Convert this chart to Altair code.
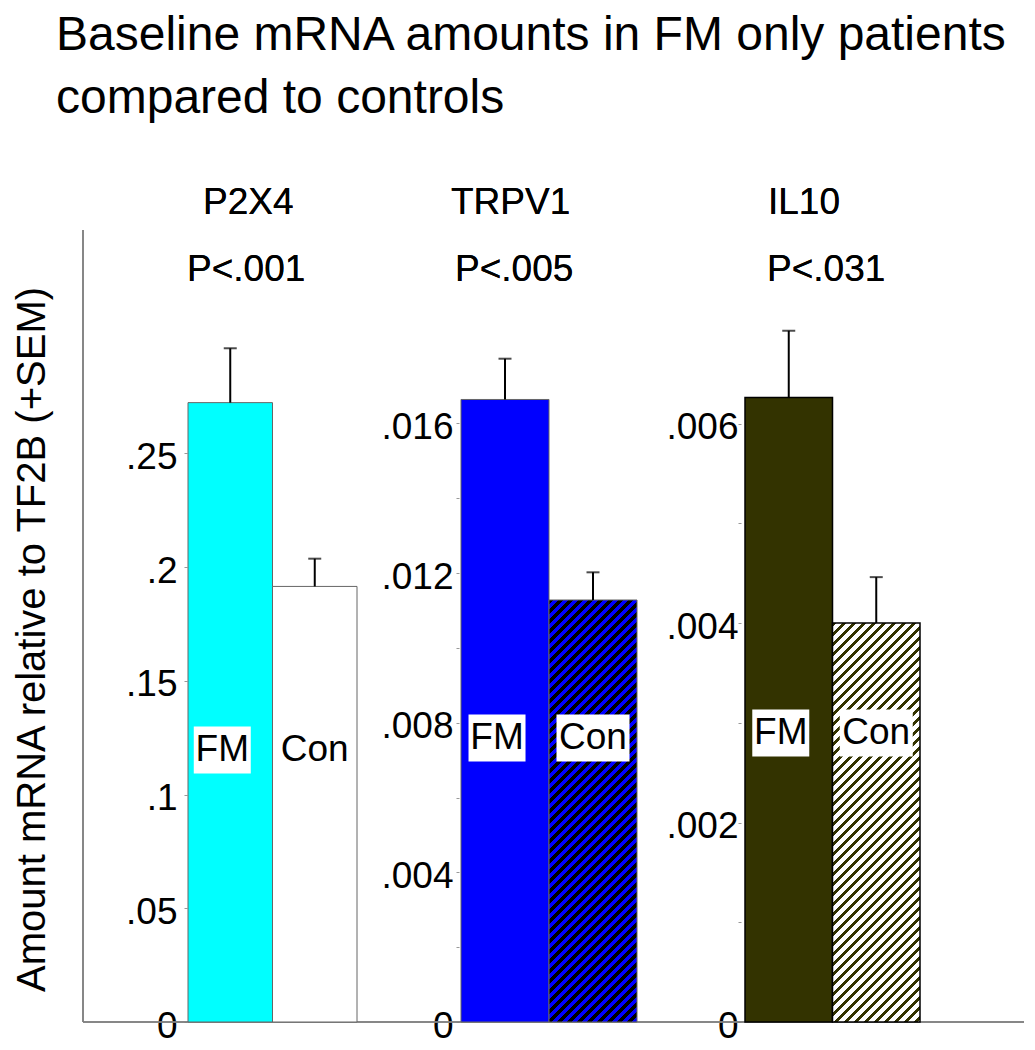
import altair as alt
import pandas as pd

FONT = "Liberation Sans"

# ---------------- data ----------------
genes = ["P2X4", "TRPV1", "IL10"]
pvals = ["P<.001", "P<.005", "P<.031"]
groups = ["FM", "Con"]
fm_means = [0.2723, 0.01664, 0.00626]
fm_err_top = [0.2962, 0.01773, 0.00693]
con_means = [0.1915, 0.01128, 0.00400]
con_err_top = [0.2037, 0.01202, 0.00446]

y_max = [0.3482, 0.02117, 0.00794]
tick_values = [
    [0, 0.05, 0.1, 0.15, 0.2, 0.25],
    [0, 0.002, 0.004, 0.006, 0.008, 0.01, 0.012, 0.014, 0.016],
    [0, 0.001, 0.002, 0.003, 0.004, 0.005, 0.006],
]
tick_labels = [
    ["0", ".05", ".1", ".15", ".2", ".25"],
    ["0", "", ".004", "", ".008", "", ".012", "", ".016"],
    ["0", "", ".002", "", ".004", "", ".006"],
]
y_title = "Amount mRNA relative to TF2B (+SEM)"
title_lines = ["Baseline mRNA amounts in FM only patients", "compared to controls"]

# ---------------- style / layout ----------------
H = 792
widths = [282, 285, 374]
steps = [84.5, 88, 87.5]
left_pads = [105, 96, 95]
axis_offsets = [104, 94, 91]
label_pads = [7, 3, 0]
fm_colors = ["#00FFFF", "#0000FF", "#333300"]
bar_strokes = ["#666666", "#666666", "#000000"]
bar_stroke_w = [1, 1, 1.5]
label_y = [520, 508, 503]
head_x = [(120, 104), (86, 90), (118, 117)]
head_y = (-27, 40)


def stripes(W, Hh, bg, fg, period, frac):
    r = Hh / W
    x2 = (1 + r) / (1 + r * r)
    y2 = r * x2
    n = (W + Hh) / period
    stops = []
    k = 0
    while k < n:
        a = min(k / n, 1)
        b = min((k + frac) / n, 1)
        c = min((k + 1) / n, 1)
        stops += [alt.GradientStop(offset=a, color=fg), alt.GradientStop(offset=b, color=fg),
                  alt.GradientStop(offset=b, color=bg), alt.GradientStop(offset=c, color=bg)]
        k += 1
    return alt.LinearGradient(gradient="linear", stops=stops, x1=0, y1=0, x2=x2, y2=y2)


def label_expr(vals, labs):
    parts = [f"datum.value == {v} ? '{l}'" for v, l in zip(vals, labs)]
    return " : ".join(parts) + " : ''"


def panel(i):
    df = pd.DataFrame({
        "group": groups,
        "mean": [fm_means[i], con_means[i]],
        "top": [fm_err_top[i], con_err_top[i]],
    })
    W = widths[i]
    step = steps[i]
    xscale = alt.Scale(domain=groups, paddingInner=0, paddingOuter=0,
                       range=[left_pads[i], left_pads[i] + 2 * step])
    yscale = alt.Scale(domain=[0, y_max[i]], nice=False, zero=True)
    xenc = alt.X("group:N", scale=xscale, sort=groups,
                 axis=alt.Axis(labels=False, ticks=False, title=None, domain=False, grid=False))
    ax_kwargs = dict(values=tick_values[i], labelExpr=label_expr(tick_values[i], tick_labels[i]),
                     offset=-axis_offsets[i], domain=False, ticks=True, tickSize=3,
                     tickColor="#999999", tickWidth=1, labelFontSize=37, labelFont=FONT,
                     labelColor="black", labelPadding=label_pads[i], labelOffset=4,
                     labelOverlap=False, grid=False)
    if i == 0:
        ax_kwargs.update(title=y_title, titleFontSize=40, titleFont=FONT, titleFontWeight="normal",
                         titleColor="black", titleX=-143, titleY=409, titleAlign="center",
                         titleBaseline="alphabetic", titleAngle=270)
    else:
        ax_kwargs.update(title=None)
    yaxis = alt.Axis(**ax_kwargs)

    base = alt.Chart(df)
    fm = base.transform_filter("datum.group == 'FM'")
    con = base.transform_filter("datum.group == 'Con'")

    layers = []
    # frame lines (bottom for every panel, left for the first)
    layers.append(base.mark_rule(color="#7f7f7f", strokeWidth=1.5)
                  .encode(x=alt.value(0), x2=alt.value(W), y=alt.value(H)))
    if i == 0:
        layers.append(base.mark_rule(color="#7f7f7f", strokeWidth=1.5)
                      .encode(x=alt.value(0), y=alt.value(0), y2=alt.value(H)))
    layers.append(fm.mark_bar(fill=fm_colors[i], stroke=bar_strokes[i], strokeWidth=bar_stroke_w[i])
                  .encode(x=xenc, y=alt.Y("mean:Q", scale=yscale, axis=yaxis)))
    con_h = con_means[i] / y_max[i] * H
    if i == 0:
        con_fill = "#FFFFFF"
    elif i == 1:
        con_fill = stripes(step, con_h, "#0000FF", "#000000", 10, 0.42)
    else:
        con_fill = stripes(step, con_h, "#FFFFFF", "#333300", 10, 0.36)
    layers.append(con.mark_bar(fill=con_fill, stroke=bar_strokes[i], strokeWidth=bar_stroke_w[i])
                  .encode(x=xenc, y=alt.Y("mean:Q")))
    # error bars
    layers.append(base.mark_rule(color="black", strokeWidth=2)
                  .encode(x=xenc, y=alt.Y("mean:Q"), y2="top:Q"))
    layers.append(base.mark_tick(color="black", thickness=2, size=13)
                  .encode(x=xenc, y=alt.Y("top:Q")))
    # label boxes
    fm_box = "M-1.28,-0.825L0.72,-0.825L0.72,0.825L-1.28,0.825Z"
    con_box = "M-1,-0.644L1,-0.644L1,0.644L-1,0.644Z"
    layers.append(fm.mark_point(shape=fm_box, filled=True, fill="white", opacity=1,
                                strokeWidth=0, size=57 * 57)
                  .encode(x=xenc, y=alt.value(label_y[i])))
    layers.append(con.mark_point(shape=con_box, filled=True, fill="white", opacity=1,
                                 strokeWidth=0, size=73 * 73)
                  .encode(x=xenc, y=alt.value(label_y[i])))
    layers.append(fm.mark_text(fontSize=37, font=FONT, color="black", dx=-8, baseline="middle")
                  .encode(x=xenc, y=alt.value(label_y[i]), text="group:N"))
    layers.append(con.mark_text(fontSize=37, font=FONT, color="black", baseline="middle")
                  .encode(x=xenc, y=alt.value(label_y[i]), text="group:N"))
    # headers
    layers.append(base.mark_text(fontSize=37, font=FONT, color="black", align="left", baseline="middle")
                  .encode(x=alt.value(head_x[i][0]), y=alt.value(head_y[0]), text=alt.value(genes[i])))
    layers.append(base.mark_text(fontSize=37, font=FONT, color="black", align="left", baseline="middle")
                  .encode(x=alt.value(head_x[i][1]), y=alt.value(head_y[1]), text=alt.value(pvals[i])))
    return alt.layer(*layers).properties(width=W, height=H)


chart = alt.hconcat(*[panel(i) for i in range(3)], spacing=0, bounds="flush").properties(
    title=alt.TitleParams(text=title_lines, anchor="start", fontSize=48, font=FONT,
                          fontWeight="normal", color="black", lineHeight=63, dx=44, offset=61),
    padding={"left": 3, "top": 4, "right": 0, "bottom": 0},
).configure(font=FONT).configure_view(stroke=None, strokeWidth=0)

chart.save("out.html", embed_options={"renderer": "svg", "actions": False})
